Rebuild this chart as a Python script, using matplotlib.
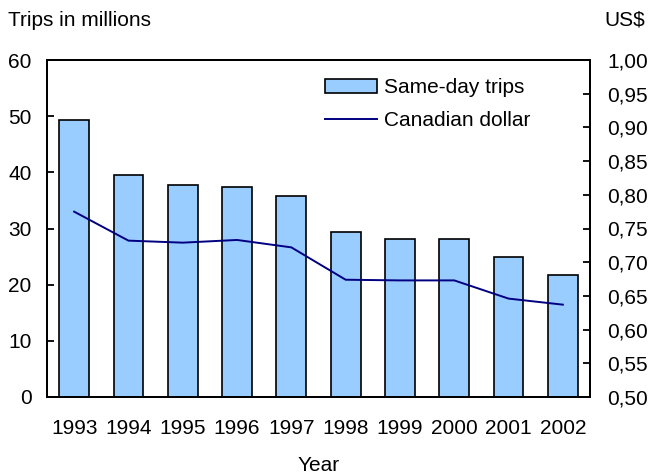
import numpy as np
import matplotlib
matplotlib.use('Agg')
import matplotlib.pyplot as plt

plt.rcParams.update({
    'font.family': ['Liberation Sans', 'DejaVu Sans'],
    'font.size': 15,
})

years = ['1993', '1994', '1995', '1996', '1997', '1998', '1999', '2000', '2001', '2002']
trips = [49.3, 39.5, 37.7, 37.4, 35.8, 29.4, 28.1, 28.1, 24.9, 21.7]
cad_usd = [0.775, 0.732, 0.729, 0.733, 0.722, 0.674, 0.673, 0.673, 0.646, 0.637]

left_ticks = [0, 10, 20, 30, 40, 50, 60]
right_ticks = [0.50, 0.55, 0.60, 0.65, 0.70, 0.75, 0.80, 0.85, 0.90, 0.95, 1.00]

BAR_COLOR = '#99CCFF'
LINE_COLOR = '#000080'

fig = plt.figure(figsize=(6.6, 4.74), dpi=100)
ax = fig.add_axes([47 / 660, 77 / 474, 543 / 660, 337 / 474])
ax2 = ax.twinx()

x = np.arange(len(years))
bars = ax.bar(x, trips, width=0.55, color=BAR_COLOR, edgecolor='black',
              linewidth=1.2, label='Same-day trips', zorder=2)
line, = ax2.plot(x, cad_usd, color=LINE_COLOR, linewidth=1.4,
                 label='Canadian dollar', zorder=3)

ax.set_xlim(-0.5, len(years) - 0.5)
ax.set_ylim(0, 60)
ax.set_yticks(left_ticks)
ax.set_xticks(x)
ax.set_xticklabels(years)
ax.tick_params(axis='x', length=0, pad=16)
ax.tick_params(axis='y', direction='in', length=5, width=1.3, pad=11)

ax2.set_ylim(0.5, 1.0)
ax2.set_yticks(right_ticks)
ax2.set_yticklabels([f'{v:.2f}'.replace('.', ',') for v in right_ticks])
ax2.tick_params(axis='y', direction='in', length=5, width=1.3, pad=12.5)

for a in (ax, ax2):
    for s in a.spines.values():
        s.set_linewidth(1.4)

fig.text(8 / 660, 1 - 20 / 474, 'Trips in millions', ha='left', va='center')
fig.text(645 / 660, 1 - 20 / 474, 'US$', ha='right', va='center')
ax.set_xlabel('Year', labelpad=13)

ax2.legend([bars, line], ['Same-day trips', 'Canadian dollar'],
           loc='upper left', bbox_to_anchor=(0.512, 0.946), frameon=False,
           borderpad=0, borderaxespad=0, handlelength=2.5, handleheight=0.65,
           handletextpad=0.34, labelspacing=0.68)

fig.savefig('out.png', dpi=100)
